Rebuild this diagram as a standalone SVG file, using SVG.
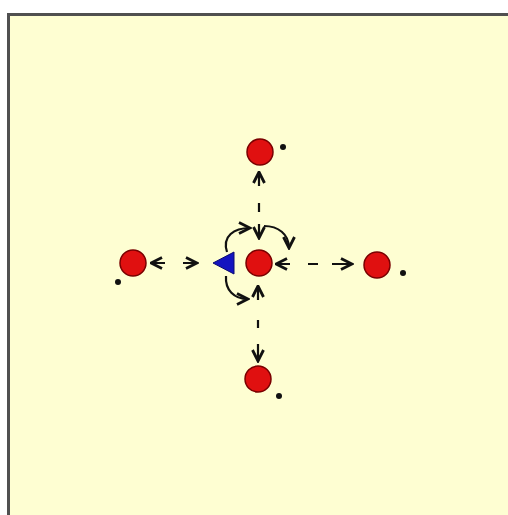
<svg xmlns="http://www.w3.org/2000/svg" width="508" height="515" viewBox="0 0 508 515">
<defs>
<style>
.player{fill:#e01010;stroke:#7a0000;stroke-width:1.5}
.dot{fill:#111}
.run{fill:none;stroke:#111;stroke-width:2.2}
.curve{fill:none;stroke:#111;stroke-width:2.2}
</style>
<marker id="ah" markerUnits="userSpaceOnUse" viewBox="0 0 14 14" refX="12.5" refY="7" markerWidth="14" markerHeight="14" orient="auto-start-reverse">
<path d="M1.5,1.5 L12.5,7 L1.5,12.5" fill="none" stroke="#111" stroke-width="2.8" stroke-linejoin="miter"/>
</marker>
</defs>
<rect x="0" y="0" width="508" height="515" fill="#ffffff"/>
<rect x="8" y="14" width="500" height="501" fill="#fefed2"/>
<path d="M8.5,515 V14.5 H508" fill="none" stroke="#505050" stroke-width="3"/>
<g id="connectors">
<line class="run" x1="151" y1="263" x2="197" y2="263" marker-start="url(#ah)" marker-end="url(#ah)" style="stroke-dasharray:14 18 14"/>
<line class="run" x1="276" y1="264" x2="352" y2="264" marker-start="url(#ah)" marker-end="url(#ah)" style="stroke-dasharray:14 18 10 14 20"/>
<line class="run" x1="259" y1="172" x2="259" y2="238" marker-start="url(#ah)" marker-end="url(#ah)" style="stroke-dasharray:14 17 9 12 14"/>
<line class="run" x1="258" y1="286" x2="258" y2="361" marker-start="url(#ah)" marker-end="url(#ah)" style="stroke-dasharray:14 20 8 16 17"/>
<path class="curve" d="M227,252 C222,236 234,228 250,228" marker-end="url(#ah)"/>
<path class="curve" d="M264,226 C278,226 289,234 289,248" marker-end="url(#ah)"/>
<path class="curve" d="M226,276 C225,290 234,299 248,299" marker-end="url(#ah)"/>
</g>
<g id="player-center"><circle class="player" cx="259" cy="263" r="13"/></g>
<g id="ball"><polygon points="213,263 234,252 234,274" fill="#1414c0" stroke="#0a0a70" stroke-width="1"/></g>
<g id="player-left"><circle class="player" cx="133" cy="263" r="13"/><circle class="dot" cx="118" cy="282" r="3"/></g>
<g id="player-right"><circle class="player" cx="377" cy="265" r="13"/><circle class="dot" cx="403" cy="273" r="3"/></g>
<g id="player-top"><circle class="player" cx="260" cy="152" r="13"/><circle class="dot" cx="283" cy="147" r="3"/></g>
<g id="player-bottom"><circle class="player" cx="258" cy="379" r="13"/><circle class="dot" cx="279" cy="396" r="3"/></g>
</svg>
